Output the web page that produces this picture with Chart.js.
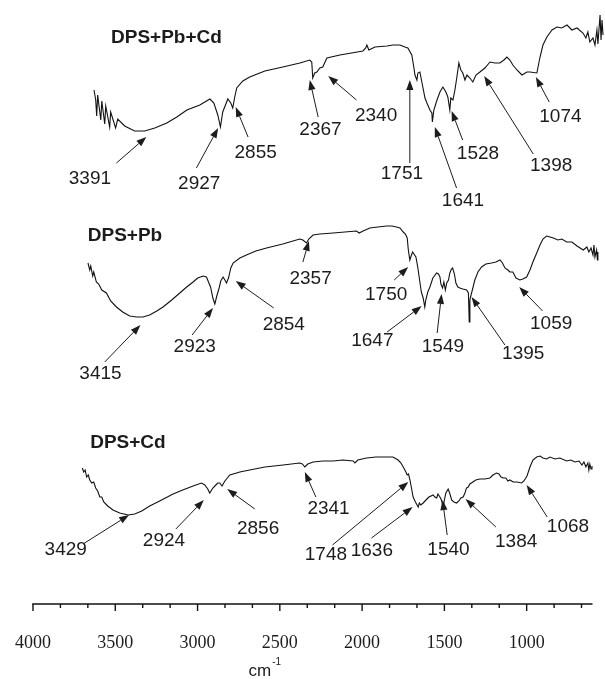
<!DOCTYPE html>
<html>
<head>
<meta charset="utf-8">
<script src="https://cdn.jsdelivr.net/npm/chart.js@4.4.0/dist/chart.umd.min.js"></script>
<style>
  html, body { margin: 0; padding: 0; background: #fff; }
  #wrap { width: 605px; height: 679px; position: relative; }
</style>
</head>
<body>
<div id="wrap"><canvas id="ftirChart"></canvas></div>
<script>
// FTIR spectra, stacked: wavenumber (cm-1) and transmittance (a.u., offset per sample)
const wnPbCd = [3629,3619,3613,3607,3588,3582,3564,3558,3534,3528,3498,3485,3443,3382,3321,3260,3187,3126,3065,2986,
  2925,2901,2877,2861,2847,2816,2798,2786,2774,2762,2725,2683,2591,2482,2378,2318,2306,2300,2288,2275,
  2257,2239,2214,2135,1995,1978,1971,1959,1922,1849,1812,1770,1740,1722,1698,1685,1679,1667,1661,1649,
  1631,1618,1606,1588,1576,1573,1564,1545,1527,1509,1491,1479,1467,1461,1448,1436,1424,1412,1400,1388,
  1375,1363,1345,1327,1308,1284,1254,1223,1193,1163,1138,1120,1102,1084,1059,1029,998,980,938,920,
  901,877,846,816,786,755,725,694,658,640,628,616,597,585,573,567,554,548,542,536];
const trPbCd = [51.4,50.4,48.8,50.9,48.4,50.3,48.0,49.8,47.7,49.2,47.6,48.5,47.8,47.3,47.3,47.6,48.1,48.7,49.4,49.9,
  50.5,50.1,48.9,47.7,49.2,50.5,50.1,49.6,50.7,51.6,52.3,52.7,53.3,53.7,54.1,54.4,54.2,52.6,53.1,53.2,
  53.6,53.7,54.6,54.9,55.3,55.6,55.9,55.4,55.7,55.8,55.9,55.9,55.7,55.6,54.9,53.6,52.9,52.4,53.1,53.2,
  51.7,50.6,50.1,49.4,49.1,48.2,49.4,50.4,51.2,51.7,51.2,50.7,49.4,50.6,50.4,51.4,52.7,54.1,53.4,53.1,
  52.4,52.9,52.6,52.2,52.9,53.2,53.6,54.2,54.1,54.1,54.4,54.7,54.4,53.9,53.4,52.9,53.2,53.2,53.1,54.6,
  55.9,56.7,57.4,57.7,57.6,57.9,57.4,57.6,57.1,56.6,57.2,56.2,56.6,55.9,57.4,56.0,58.9,56.4,58.4,56.9];

const wnPb = [3666,3655,3649,3637,3631,3615,3601,3582,3554,3528,3493,3455,3412,3371,3332,3291,3248,3210,3157,3108,
  3066,3027,2999,2966,2946,2921,2907,2895,2883,2869,2859,2845,2834,2824,2812,2798,2784,2743,2703,2646,
  2581,2482,2379,2360,2338,2324,2298,2257,2176,2105,2034,2018,1994,1953,1904,1851,1819,1791,1770,1750,
  1737,1726,1719,1710,1700,1693,1685,1673,1661,1649,1640,1629,1619,1613,1601,1588,1570,1547,1536,1527,
  1521,1511,1503,1494,1486,1475,1467,1457,1450,1439,1430,1418,1406,1388,1365,1354,1349,1345,1341,1327,
  1315,1296,1274,1248,1213,1187,1162,1147,1132,1114,1102,1084,1065,1041,1023,1000,980,962,939,919,
  901,879,858,838,810,786,757,725,694,656,634,622,609,597,591,585,575,570,567];
const trPb = [34.1,33.4,33.8,32.8,33.2,32.2,32.0,31.4,31.1,30.3,29.7,29.2,28.8,28.7,28.7,28.9,29.3,29.7,30.4,31.1,
  31.7,32.2,32.6,32.8,32.7,31.7,30.6,30.0,30.8,31.6,32.3,32.7,32.4,32.1,32.6,33.6,34.1,34.6,34.9,35.3,
  35.6,36.0,36.5,36.4,36.1,36.5,36.9,37.0,37.1,37.2,37.3,37.1,37.3,37.6,37.7,37.8,37.8,37.7,37.6,37.2,
  37.0,36.6,35.4,34.4,34.9,35.2,35.0,34.7,33.6,32.2,31.2,30.6,29.7,30.4,31.2,31.7,32.6,33.1,33.0,32.7,
  32.0,31.6,32.2,31.4,32.1,32.4,33.1,33.5,33.6,33.0,32.1,31.7,31.6,31.5,31.4,31.1,28.2,30.4,30.7,31.6,
  32.4,33.2,33.7,34.0,34.1,34.2,34.4,34.1,33.6,33.4,33.2,33.2,32.6,32.4,32.5,32.7,33.4,34.2,35.1,35.9,
  36.5,36.8,36.7,36.6,36.4,36.5,36.2,36.2,35.8,35.4,35.7,35.2,35.6,34.9,35.9,34.7,35.4,34.4,35.2];

const wnCd = [3700,3692,3683,3674,3664,3655,3643,3631,3619,3607,3594,3582,3570,3546,3514,3473,3422,3382,3339,3291,
  3230,3149,3090,3027,2976,2956,2938,2926,2907,2889,2877,2865,2851,2834,2804,2743,2683,2591,2480,2379,
  2363,2348,2330,2298,2239,2176,2117,2054,2044,2026,1973,1916,1851,1813,1781,1764,1750,1737,1726,1718,
  1709,1700,1690,1676,1659,1652,1643,1629,1612,1594,1568,1558,1547,1539,1527,1518,1507,1500,1491,1477,
  1466,1456,1442,1426,1412,1400,1386,1375,1366,1355,1345,1327,1309,1284,1254,1223,1205,1183,1168,1156,
  1142,1126,1114,1102,1082,1059,1031,1017,998,980,962,939,919,901,879,858,828,798,757,731,
  707,682,664,652,640,628,622,616,609,603];
const trCd = [13.6,13.2,13.4,12.7,12.9,12.4,12.1,12.2,11.6,11.3,10.7,10.7,10.2,9.8,9.4,9.1,8.9,9.0,9.3,9.8,
  10.3,11.0,11.4,11.8,12.1,11.9,11.5,11.1,11.6,11.9,12.1,12.1,11.8,12.3,12.9,13.2,13.4,13.7,13.9,14.1,
  14.0,13.7,14.0,14.2,14.3,14.3,14.4,14.3,14.1,14.4,14.6,14.7,14.7,14.7,14.4,14.1,13.7,13.3,12.9,13.0,
  12.4,11.6,10.7,10.2,9.7,10.1,9.9,10.1,10.4,10.7,10.9,10.7,10.6,11.0,10.7,10.4,9.7,10.4,11.1,11.5,
  11.0,10.4,10.2,10.1,10.3,10.6,10.7,11.1,11.6,11.7,12.0,12.2,12.4,12.5,12.5,12.6,12.9,13.1,13.0,12.7,
  12.6,12.6,12.3,12.4,12.2,12.2,12.1,12.3,12.8,13.7,14.4,14.7,14.8,14.6,14.5,14.7,14.5,14.6,14.3,14.4,
  14.2,14.3,13.9,14.2,13.7,14.1,13.4,14.0,13.5,13.8];

const sampleNames = ['DPS+Pb+Cd', 'DPS+Pb', 'DPS+Cd'];
const tickLabels = [4000, 3500, 3000, 2500, 2000, 1500, 1000];

// where each sample name sits (data units)
const namePos = [[3189, 56.65], [3441, 36.8], [3423, 16.1]];

// peak callouts: text, label centre, arrow tail, arrow tip (all data units)
const peaksPbCd = [
  ['3391', 3654, 42.5, 3493, 44.1, 3311, 46.7],
  ['2927', 2990, 42.0, 3007, 43.6, 2875, 47.6],
  ['2855', 2647, 45.1, 2693, 46.7, 2768, 49.7],
  ['2367', 2253, 47.4, 2267, 48.7, 2318, 52.4],
  ['2340', 1915, 48.8, 2034, 50.4, 2206, 52.8],
  ['1751', 1758, 43.0, 1710, 44.1, 1710, 52.4],
  ['1641', 1387, 40.3, 1426, 41.6, 1558, 47.7],
  ['1528', 1296, 45.0, 1389, 46.4, 1456, 49.3],
  ['1398', 851, 43.8, 960, 45.0, 1258, 52.8],
  ['1074', 795, 48.7, 863, 50.2, 944, 52.7]
];
const peaksPb = [
  ['3415', 3590, 23.0, 3564, 24.2, 3347, 27.9],
  ['2923', 3017, 25.7, 3033, 26.9, 2906, 29.6],
  ['2854', 2476, 27.9, 2537, 29.6, 2768, 32.3],
  ['2357', 2313, 32.5, 2360, 34.2, 2323, 36.3],
  ['1750', 1854, 30.9, 1805, 32.4, 1720, 33.7],
  ['1647', 1938, 26.3, 1848, 27.2, 1638, 29.8],
  ['1549', 1509, 25.7, 1544, 27.1, 1517, 31.0],
  ['1395', 1021, 25.0, 1132, 25.9, 1335, 30.7],
  ['1059', 851, 28.0, 903, 29.3, 1045, 31.7]
];
const peaksCd = [
  ['3429', 3801, 5.4, 3696, 6.0, 3416, 8.9],
  ['2924', 3204, 6.3, 3132, 7.5, 2962, 10.4],
  ['2856', 2632, 7.5, 2652, 9.5, 2820, 11.5],
  ['2341', 2204, 9.5, 2281, 10.7, 2348, 13.2],
  ['1748', 2220, 4.9, 2180, 5.9, 1719, 12.2],
  ['1636', 1941, 5.3, 1943, 6.6, 1693, 9.7],
  ['1540', 1475, 5.4, 1483, 6.9, 1511, 10.4],
  ['1384', 1064, 6.2, 1187, 7.7, 1371, 10.5],
  ['1068', 749, 7.7, 875, 8.7, 1000, 11.9]
];

const toPoints = (wn, tr) => wn.map((w, i) => ({ x: w, y: tr[i] }));

function drawArrow(ctx, x0, y0, x1, y1) {
  const ang = Math.atan2(y1 - y0, x1 - x0);
  const len = 10, half = 3.6;
  const bx = x1 - len * Math.cos(ang), by = y1 - len * Math.sin(ang);
  ctx.beginPath();
  ctx.moveTo(x0, y0);
  ctx.lineTo(bx, by);
  ctx.stroke();
  ctx.beginPath();
  ctx.moveTo(x1, y1);
  ctx.lineTo(bx + half * Math.sin(ang), by - half * Math.cos(ang));
  ctx.lineTo(bx - half * Math.sin(ang), by + half * Math.cos(ang));
  ctx.closePath();
  ctx.fill();
}

// sample names + peak arrows
const calloutPlugin = {
  id: 'callouts',
  afterDatasetsDraw(chart) {
    const { ctx, scales: { x, y } } = chart;
    ctx.save();
    ctx.fillStyle = '#1c1c1c';
    ctx.strokeStyle = '#1c1c1c';
    ctx.textAlign = 'center';
    ctx.textBaseline = 'middle';
    ctx.font = 'bold 19px "Liberation Sans", Arial, sans-serif';
    sampleNames.forEach((name, i) => {
      ctx.fillText(name, x.getPixelForValue(namePos[i][0]), y.getPixelForValue(namePos[i][1]));
    });
    ctx.font = '19px "Liberation Sans", Arial, sans-serif';
    ctx.lineWidth = 1;
    [...peaksPbCd, ...peaksPb, ...peaksCd].forEach(([text, lx, ly, ax, ay, bx, by]) => {
      ctx.fillText(text, x.getPixelForValue(lx), y.getPixelForValue(ly));
      drawArrow(ctx, x.getPixelForValue(ax), y.getPixelForValue(ay),
                     x.getPixelForValue(bx), y.getPixelForValue(by));
    });
    ctx.restore();
  }
};

// bottom axis line with major/minor ticks and the unit label
const axisPlugin = {
  id: 'wnAxis',
  afterDraw(chart) {
    const { ctx, chartArea, scales: { x } } = chart;
    const yA = chartArea.bottom;
    ctx.save();
    ctx.strokeStyle = '#111';
    ctx.lineWidth = 1.6;
    ctx.beginPath();
    ctx.moveTo(x.getPixelForValue(4000) - 0.8, yA);
    ctx.lineTo(x.getPixelForValue(600), yA);
    ctx.stroke();
    ctx.lineWidth = 1.4;
    for (let k = 0; k <= 20; k++) {
      const v = 4000 - k * 500 / 3;
      const px = x.getPixelForValue(v);
      ctx.beginPath();
      ctx.moveTo(px, yA);
      ctx.lineTo(px, yA + (k % 3 === 0 ? 7 : 4));
      ctx.stroke();
    }
    ctx.fillStyle = '#1c1c1c';
    ctx.textBaseline = 'alphabetic';
    ctx.textAlign = 'left';
    ctx.font = '17px "Liberation Sans", Arial, sans-serif';
    const tx = x.getPixelForValue(2690);
    const cmW = ctx.measureText('cm').width;
    ctx.fillText('cm', tx, yA + 72);
    ctx.font = '10px "Liberation Sans", Arial, sans-serif';
    ctx.fillText('-1', tx + cmW + 1, yA + 61);
    ctx.restore();
  }
};

new Chart(document.getElementById('ftirChart'), {
  type: 'line',
  data: {
    datasets: [
      { label: sampleNames[0], data: toPoints(wnPbCd, trPbCd) },
      { label: sampleNames[1], data: toPoints(wnPb, trPb) },
      { label: sampleNames[2], data: toPoints(wnCd, trCd) }
    ].map(d => Object.assign(d, {
      borderColor: '#111',
      borderWidth: 1.1,
      pointRadius: 0,
      tension: 0,
      fill: false
    }))
  },
  options: {
    responsive: true,
    maintainAspectRatio: false,
    animation: false,
    layout: { padding: { left: 33, right: 1, top: 4, bottom: 0 } },
    plugins: {
      legend: { display: false },
      tooltip: { enabled: false }
    },
    scales: {
      x: {
        type: 'linear',
        reverse: true,
        min: 530,
        max: 4000,
        afterBuildTicks: (s) => { s.ticks = tickLabels.map(v => ({ value: v })); },
        afterFit: (s) => { s.height = 75; },
        // invisible tick marks only push the labels down; the drawn ticks come from wnAxis
        grid: {
          display: true,
          drawOnChartArea: false,
          drawTicks: true,
          tickLength: 28,
          color: 'transparent',
          tickColor: 'transparent'
        },
        border: { display: false },
        ticks: {
          autoSkip: false,
          maxRotation: 0,
          padding: 0,
          color: '#1c1c1c',
          font: { family: '"Liberation Serif", "Times New Roman", serif', size: 18 },
          callback: (v) => String(v)
        }
      },
      y: { display: false, min: 0, max: 60 }
    }
  },
  plugins: [calloutPlugin, axisPlugin]
});
</script>
</body>
</html>
